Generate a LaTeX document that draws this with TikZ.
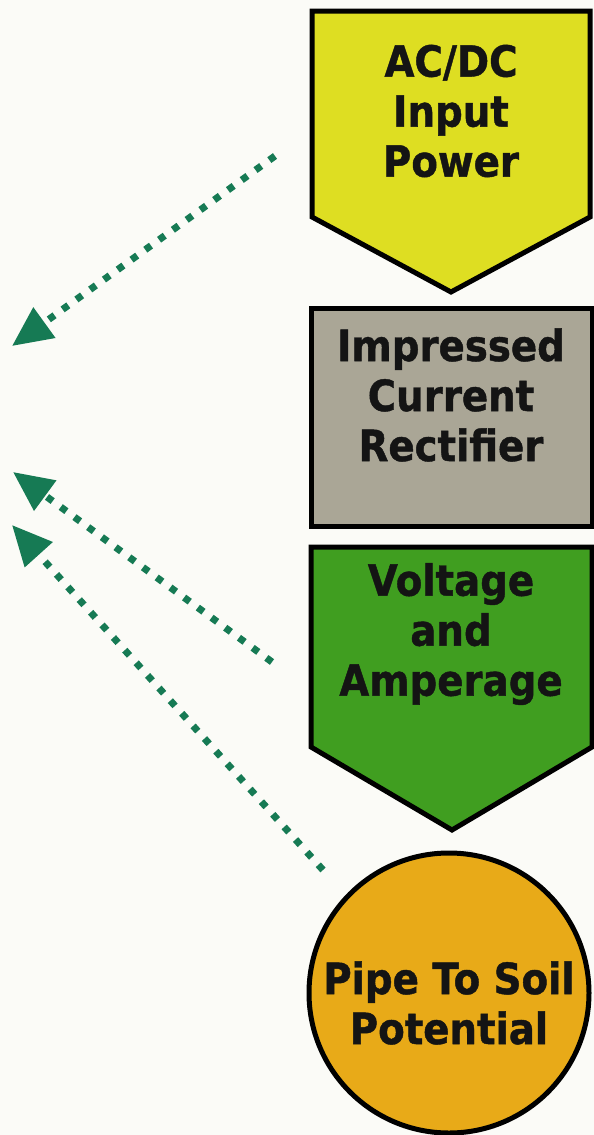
\documentclass[tikz,border=0pt]{standalone}
\usepackage{fontspec}
\setmainfont{DejaVu Sans}[FakeStretch=0.9,BoldFeatures={FakeBold=1}]
\usetikzlibrary{arrows.meta}
\definecolor{bg}{RGB}{251,251,247}
\definecolor{ylw}{RGB}{222,222,34}
\definecolor{gry}{RGB}{170,166,150}
\definecolor{grn}{RGB}{64,158,32}
\definecolor{org}{RGB}{232,170,24}
\definecolor{arr}{RGB}{22,122,84}
\begin{document}
\begin{tikzpicture}[x=1pt,y=-1pt,
  shapeline/.style={draw=black,line width=5pt,line join=miter},
  lbl/.style={font=\bfseries\fontsize{43}{50}\selectfont,align=center,text=black!92},
  dotarrow/.style={draw=arr,line width=7pt,dash pattern=on 7pt off 10pt,-{Triangle[length=40pt,width=36pt]}}]
\fill[bg] (0,0) rectangle (594,1135);
\useasboundingbox (0,0) rectangle (594,1135);
% shapes
\draw[shapeline,fill=ylw] (312,11) -- (590,11) -- (590,217) -- (451,292) -- (312,217) -- cycle;
\draw[shapeline,fill=gry] (311,308) rectangle (592,526);
\draw[shapeline,fill=grn] (311,547) -- (592,547) -- (592,747) -- (452,830) -- (311,747) -- cycle;
\node[circle,draw=black,line width=5pt,fill=org,minimum size=280pt,inner sep=0pt] (pipe) at (449,993) {};
% texts
\node[lbl] (acdc) at (451,111) {AC/DC\\Input\\Power};
\node[lbl] (rect) at (451,395) {Impressed\\Current\\Rectifier};
\node[lbl] (volt) at (451,634) {Voltage\\and\\Amperage};
\node[lbl] (pipetext) at (449,1003) {Pipe To Soil\\Potential};
% arrows
\coordinate (a1s) at (275,156);
\coordinate (a1e) at (12,346);
\coordinate (a2s) at (272,662);
\coordinate (a2e) at (13,472);
\coordinate (a3s) at (323,870);
\coordinate (a3e) at (12,525);
\draw[dotarrow] (a1s) -- (a1e);
\draw[dotarrow] (a2s) -- (a2e);
\draw[dotarrow] (a3s) -- (a3e);
\end{tikzpicture}
\end{document}
